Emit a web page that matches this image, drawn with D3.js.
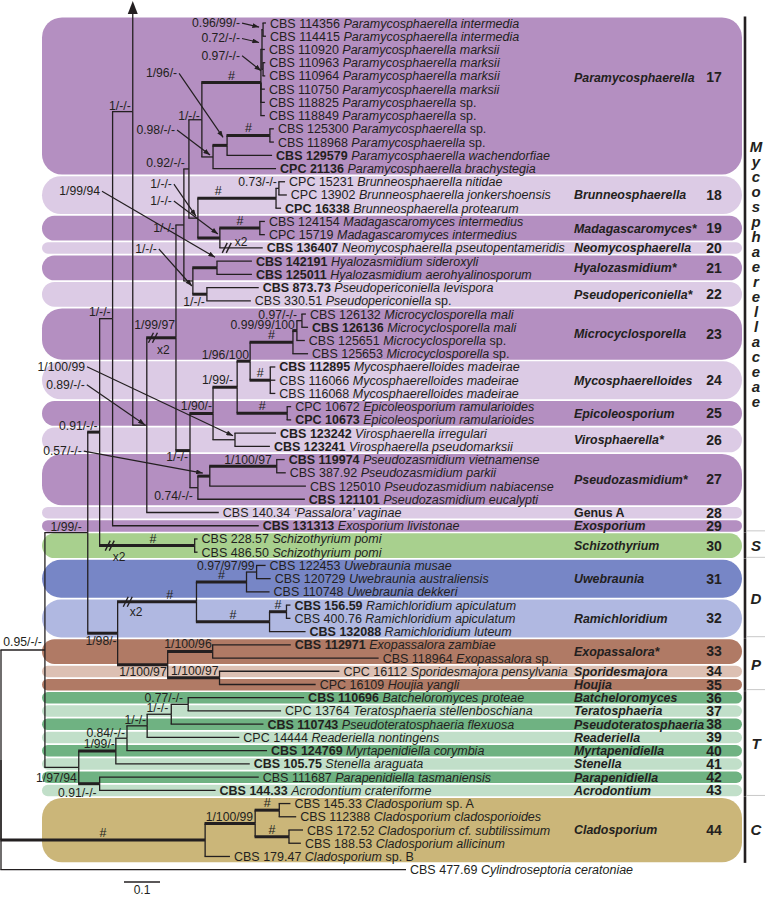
<!DOCTYPE html>
<html>
<head>
<meta charset="utf-8">
<title>Mycosphaerellaceae phylogeny</title>
<script src="https://cdnjs.cloudflare.com/ajax/libs/d3/7.8.5/d3.min.js"></script>
<style>
  body { margin: 0; background: #fff; }
  svg text { font-family: "Liberation Sans", Arial, Helvetica, sans-serif; fill: #231f20; }
</style>
</head>
<body>
<div id="chart"></div>
<script>
var width = 765, height = 897;

// internal nodes: id, parent, branch length (subst./site), thick branch
var nodes = [
  ["root", null, 0, 0],
  ["n095", "root", 0.122, 0],
  ["ncl", "root", 0.567, 1],
  ["n199", "n095", 0.119, 0],
  ["nt", "n095", 0.094, 0],
  ["n091", "n199", 0.033, 1],
  ["n198", "n199", 0.083, 1],
  ["n1x", "n091", 0.036, 0],
  ["nsc", "n091", 0.264, 1],
  ["n133", "n1x", 0.056, 0],
  ["n089", "n133", 0.039, 0],
  ["n19997", "n089", 0.081, 1],
  ["nu", "n19997", 0.022, 0],
  ["nl", "n19997", 0.039, 1],
  ["n092", "nu", 0.014, 0],
  ["nhp", "nu", 0.025, 0],
  ["n1_122", "n092", 0.036, 0],
  ["nbmn", "n092", 0.025, 0],
  ["p0", "n1_122", 0.164, 1],
  ["n072", "p0", 0.003, 0],
  ["n096", "n072", 0.003, 0],
  ["n097", "n072", 0.003, 0],
  ["npb", "n1_122", 0.031, 0],
  ["npc", "npb", 0.039, 1],
  ["n2", "npc", 0.119, 1],
  ["nbr", "nbmn", 0.217, 1],
  ["nbr2", "nbr", 0.008, 0],
  ["nmn", "nbmn", 0.061, 1],
  ["nmad", "nmn", 0.111, 1],
  ["nhy", "nhp", 0.067, 1],
  ["npp", "nhp", 0.039, 1],
  ["n190", "nl", 0.064, 1],
  ["npz", "nl", 0.022, 0],
  ["n199b", "n190", 0.067, 1],
  ["nvi", "n190", 0.061, 0],
  ["n196", "n199b", 0.036, 1],
  ["nep", "n199b", 0.139, 1],
  ["nmi", "n196", 0.119, 1],
  ["nmy", "n196", 0.056, 1],
  ["nm2", "nmi", 0.011, 1],
  ["nm3", "nm2", 0.014, 0],
  ["npz2", "npz", 0.033, 1],
  ["npz3", "npz2", 0.186, 1],
  ["nur", "n198", 0.219, 1],
  ["np", "n198", 0.139, 1],
  ["nuw", "nur", 0.139, 1],
  ["nra", "nur", 0.203, 1],
  ["nu2", "nuw", 0.028, 0],
  ["nr2", "nra", 0.047, 1],
  ["nex", "np", 0.125, 1],
  ["nsh", "np", 0.144, 1],
  ["nt99", "nt", 0.103, 1],
  ["n091t", "nt", 0.058, 1],
  ["n084", "nt99", 0.031, 0],
  ["n1a", "n084", 0.056, 0],
  ["n1b", "n1a", 0.067, 0],
  ["n077", "n1b", 0.047, 0],
  ["nc1", "ncl", 0.139, 1],
  ["nc1a", "nc1", 0.067, 1],
  ["nc1b", "nc1", 0.094, 1]
];

// terminal taxa, top to bottom: strain, species, bold strain, parent, branch length
var taxa = [
  ["CBS 114356", "Paramycosphaerella intermedia", 0, "n096", 0.008],
  ["CBS 114415", "Paramycosphaerella intermedia", 0, "n096", 0.008],
  ["CBS 110920", "Paramycosphaerella marksii", 0, "n072", 0.008],
  ["CBS 110963", "Paramycosphaerella marksii", 0, "n097", 0.006],
  ["CBS 110964", "Paramycosphaerella marksii", 0, "n097", 0.006],
  ["CBS 110750", "Paramycosphaerella marksii", 0, "p0", 0.011],
  ["CBS 118825", "Paramycosphaerella sp.", 0, "p0", 0.011],
  ["CBS 118849", "Paramycosphaerella sp.", 0, "p0", 0.011],
  ["CBS 125300", "Paramycosphaerella sp.", 0, "n2", 0.011],
  ["CBS 118968", "Paramycosphaerella sp.", 0, "n2", 0.011],
  ["CBS 129579", "Paramycosphaerella wachendorfiae", 1, "npc", 0.125],
  ["CPC 21136", "Paramycosphaerella brachystegia", 1, "npb", 0.175],
  ["CPC 15231", "Brunneosphaerella nitidae", 0, "nbr2", 0.017],
  ["CPC 13902", "Brunneosphaerella jonkershoensis", 0, "nbr2", 0.022],
  ["CPC 16338", "Brunneosphaerella protearum", 1, "nbr", 0.014],
  ["CBS 124154", "Madagascaromyces intermedius", 0, "nmad", 0.014],
  ["CPC 15719", "Madagascaromyces intermedius", 0, "nmad", 0.014],
  ["CBS 136407", "Neomycosphaerella pseutopentameridis", 1, "nmn", 0.119],
  ["CBS 142191", "Hyalozasmidium sideroxyli", 1, "nhy", 0.097],
  ["CBS 125011", "Hyalozasmidium aerohyalinosporum", 1, "nhy", 0.097],
  ["CBS 873.73", "Pseudopericoniella levispora", 1, "npp", 0.144],
  ["CBS 330.51", "Pseudopericoniella sp.", 0, "npp", 0.122],
  ["CBS 126132", "Microcyclosporella mali", 0, "nm3", 0.011],
  ["CBS 126136", "Microcyclosporella mali", 1, "nm3", 0.017],
  ["CBS 125651", "Microcyclosporella sp.", 0, "nm2", 0.022],
  ["CBS 125653", "Microcyclosporella sp.", 0, "nmi", 0.042],
  ["CBS 112895", "Mycosphaerelloides madeirae", 1, "nmy", 0.014],
  ["CBS 116066", "Mycosphaerelloides madeirae", 0, "nmy", 0.014],
  ["CBS 116068", "Mycosphaerelloides madeirae", 0, "nmy", 0.014],
  ["CPC 10672", "Epicoleosporium ramularioides", 0, "nep", 0.011],
  ["CPC 10673", "Epicoleosporium ramularioides", 1, "nep", 0.011],
  ["CBS 123242", "Virosphaerella irregulari", 1, "nvi", 0.114],
  ["CBS 123241", "Virosphaerella pseudomarksii", 1, "nvi", 0.097],
  ["CBS 119974", "Pseudozasmidium vietnamense", 1, "npz3", 0.022],
  ["CBS 387.92", "Pseudozasmidium parkii", 0, "npz3", 0.025],
  ["CBS 125010", "Pseudozasmidium nabiacense", 0, "npz2", 0.267],
  ["CBS 121101", "Pseudozasmidium eucalypti", 1, "npz", 0.297],
  ["CBS 140.34", "\u2018Passalora\u2019 vaginae", 0, "n089", 0.200],
  ["CBS 131313", "Exosporium livistonae", 1, "n1x", 0.406],
  ["CBS 228.57", "Schizothyrium pomi", 0, "nsc", 0.008],
  ["CBS 486.50", "Schizothyrium pomi", 0, "nsc", 0.008],
  ["CBS 122453", "Uwebraunia musae", 0, "nu2", 0.025],
  ["CBS 120729", "Uwebraunia australiensis", 0, "nu2", 0.039],
  ["CBS 110748", "Uwebraunia dekkeri", 0, "nuw", 0.064],
  ["CBS 156.59", "Ramichloridium apiculatum", 1, "nr2", 0.011],
  ["CBS 400.76", "Ramichloridium apiculatum", 0, "nr2", 0.011],
  ["CBS 132088", "Ramichloridium luteum", 1, "nra", 0.100],
  ["CBS 112971", "Exopassalora zambiae", 1, "nex", 0.217],
  ["CBS 118964", "Exopassalora sp.", 0, "nex", 0.461],
  ["CPC 16112", "Sporidesmajora pensylvania", 0, "nsh", 0.333],
  ["CPC 16109", "Houjia yangli", 0, "nsh", 0.267],
  ["CBS 110696", "Batcheloromyces proteae", 1, "n077", 0.322],
  ["CPC 13764", "Teratosphaeria stellenboschiana", 0, "n077", 0.258],
  ["CBS 110743", "Pseudoteratosphaeria flexuosa", 1, "n1b", 0.256],
  ["CPC 14444", "Readeriella nontingens", 0, "n1a", 0.256],
  ["CBS 124769", "Myrtapenidiella corymbia", 1, "n084", 0.389],
  ["CBS 105.75", "Stenella araguata", 1, "nt99", 0.372],
  ["CBS 111687", "Parapenidiella tasmaniensis", 0, "n091t", 0.442],
  ["CBS 144.33", "Acrodontium crateriforme", 1, "n091t", 0.322],
  ["CBS 145.33", "Cladosporium sp. A", 0, "nc1a", 0.031],
  ["CBS 112388", "Cladosporium cladosporioides", 0, "nc1a", 0.047],
  ["CBS 172.52", "Cladosporium cf. subtilissimum", 0, "nc1b", 0.039],
  ["CBS 188.53", "Cladosporium allicinum", 0, "nc1b", 0.033],
  ["CBS 179.47", "Cladosporium sp. B", 0, "ncl", 0.069],
  ["CBS 477.69", "Cylindroseptoria ceratoniae", 0, "root", 1.125]
];

// branch continuing to the part of the tree above the figure
var upRow = -17;

// support values: node, text, label dx, dy from node
var support = [
  ["n095", "0.95/-/-", -3, -4], ["n199", "1/99/-", -6, -2], ["n091", "0.91/-/-", -2, -2],
  ["n1x", "1/-/-", -2, -3], ["n133", "1/-/-", -2, -2], ["n1_122", "1/-/-", -2, 0],
  ["n092", "0.92/-/-", -4, -2], ["nu", "1/-/-", -9, 7], ["nbr2", "0.73/-/-", -2, -2],
  ["npp", "1/-/-", -2, 11.5], ["n19997", "1/99/97", -1, -8.5], ["nm3", "0.97/-/-", -5, -2],
  ["nm2", "0.99/99/100", -2, -2], ["n196", "1/96/100", -1, -2], ["n199b", "1/99/-", -4, -3],
  ["n190", "1/90/-", -1, -3], ["nl", "1/-/-", -2, 10.5], ["npz", "0.74/-/-", -5, 12],
  ["npz3", "1/100/97", -5, -2], ["nu2", "0.97/97/99", -2, -2.5], ["n198", "1/98/-", -1, 12],
  ["np", "1/100/97", -1, 11], ["nex", "1/100/96", -1, -3], ["nsh", "1/100/97", -1, -3],
  ["n077", "0.77/-/-", -5, -2.5], ["n1b", "1/-/-", -3, -2.5], ["n1a", "1/-/-", -1, -2],
  ["n084", "0.84/-/-", -2, -1.5], ["nt99", "1/99/-", -1, -3], ["nt", "1/97/94", -2, 14.5],
  ["n091t", "0.91/-/-", -3, 13.5], ["nc1", "1/100/99", -2, -2]
];

// support values with a pointer: node, text, label dx, dy, arrow tip dx, dy
var pointed = [
  ["n096", "0.96/99/-", -23, -2.5, -4, -2.5],
  ["n072", "0.72/-/-", -22, -7, -3, -7],
  ["n097", "0.97/-/-", -23, -9.5, -2, 1.5],
  ["npc", "1/96/-", -50, -68, -4, -8],
  ["npb", "0.98/-/-", -38, -23, -3, -2],
  ["nhy", "1/99/94", -117, -72.5, -2, -10.5],
  ["nbmn", "1/-/-", -26, -30, -2, -2],
  ["nmn", "1/-/-", -48, -33, -2, -4],
  ["nhp", "1/-/-", -36, -28, -1, 5],
  ["nvi", "1/100/99", -150, -69, -2, -4],
  ["n089", "0.89/-/-", -62, -36.5, -2, -0.5],
  ["npz2", "0.57/-/-", -128, -21, -7, -3]
];

// fully supported branches (#): node, position along the branch
var hashes = [
  ["p0", 0.5], ["n2", 0.5], ["nbr", 0.26], ["nmad", 0.5], ["nmi", 0.5], ["nmy", 0.5],
  ["nep", 0.5], ["nsc", 0.56], ["nur", 0.66], ["nuw", 0.5], ["nra", 0.5], ["nr2", 0.5],
  ["ncl", 0.5], ["nc1a", 0.5], ["nc1b", 0.5]
];

// branches drawn at half length: node, break position from parent, x2 label dx, dy
var breaks = [
  ["t17", 0.019, 8, -2], ["n19997", 0.017, 4, 16], ["nsc", 0.028, 3, 15], ["nur", 0.028, 2, 14]
];

// genus clades: label, number, first row, last row, colour, italic, label row
var clades = [
  ["Paramycosphaerella", 17, 0, 11, "purple", 1, 4.1],
  ["Brunneosphaerella", 18, 12, 14, "lilac", 1],
  ["Madagascaromyces*", 19, 15, 16, "purple", 1],
  ["Neomycosphaerella", 20, 17, 17, "lilac", 1],
  ["Hyalozasmidium*", 21, 18, 19, "purple", 1],
  ["Pseudopericoniella*", 22, 20, 21, "lilac", 1],
  ["Microcyclosporella", 23, 22, 25, "purple", 1],
  ["Mycosphaerelloides", 24, 26, 28, "lilac", 1],
  ["Epicoleosporium", 25, 29, 30, "purple", 1],
  ["Virosphaerella*", 26, 31, 32, "lilac", 1],
  ["Pseudozasmidium*", 27, 33, 36, "purple", 1],
  ["Genus A", 28, 37, 37, "lilac", 0],
  ["Exosporium", 29, 38, 38, "purple", 1],
  ["Schizothyrium", 30, 39, 40, "lime", 1],
  ["Uwebraunia", 31, 41, 43, "blue", 1],
  ["Ramichloridium", 32, 44, 46, "paleblue", 1],
  ["Exopassalora*", 33, 47, 48, "brown", 1],
  ["Sporidesmajora", 34, 49, 49, "tan", 1],
  ["Houjia", 35, 50, 50, "brown", 1],
  ["Batcheloromyces", 36, 51, 51, "green", 1],
  ["Teratosphaeria", 37, 52, 52, "palegreen", 1],
  ["Pseudoteratosphaeria", 38, 53, 53, "green", 1],
  ["Readeriella", 39, 54, 54, "palegreen", 1],
  ["Myrtapenidiella", 40, 55, 55, "green", 1],
  ["Stenella", 41, 56, 56, "palegreen", 1],
  ["Parapenidiella", 42, 57, 57, "green", 1],
  ["Acrodontium", 43, 58, 58, "palegreen", 1],
  ["Cladosporium", 44, 59, 63, "gold", 1]
];

// families: label, first clade, last clade
var families = [
  ["Mycosphaerellaceae", 0, 12], ["S", 13, 13], ["D", 14, 15],
  ["P", 16, 18], ["T", 19, 26], ["C", 27, 27]
];

var colours = {
  purple: "#b48fc1", lilac: "#dccbe5", lime: "#a8d08e", blue: "#7786c6",
  paleblue: "#b0b8e1", brown: "#b07a65", tan: "#dcc0b3", green: "#6fb282",
  palegreen: "#c1dfc9", gold: "#cbb679"
};

var svg = d3.select("#chart").append("svg")
    .attr("width", width)
    .attr("height", height);

var x = d3.scaleLinear().domain([0, 1]).range([1, 361]);
var y = d3.scaleLinear().domain([0, 64]).range([23, 869.7]);

var rows = nodes.map(function(d) { return {id: d[0], parent: d[1], len: d[2], thick: d[3]}; })
  .concat(taxa.map(function(d, i) {
    return {id: "t" + i, parent: d[3], len: d[4], thick: 0, row: i, taxon: d};
  }))
  .concat([{id: "up", parent: "n133", len: 0, thick: 0, row: upRow, up: true}]);

var root = d3.stratify()
    .id(function(d) { return d.id; })
    .parentId(function(d) { return d.parent; })(rows);

root.eachBefore(function(n) {
  n.dist = n.parent ? n.parent.dist + n.data.len : 0;
  n.px = x(n.dist);
});
root.eachAfter(function(n) {
  if (!n.children) { n.py = y(n.data.row); return; }
  var ys = n.children.map(function(c) { return c.py; });
  n.py = (d3.min(ys) + d3.max(ys)) / 2;
});
var byId = new Map(root.descendants().map(function(n) { return [n.id, n]; }));

// clade bands
function bandTop(c) { return y(c[2]) - 5.6; }
function bandBottom(c) { return y(c[3]) + 5.9; }

svg.append("g").selectAll("rect")
    .data(clades)
  .enter().append("rect")
    .attr("x", 42)
    .attr("width", 700)
    .attr("y", bandTop)
    .attr("height", function(c) { return bandBottom(c) - bandTop(c); })
    .attr("rx", function(c) { return Math.min(20, (bandBottom(c) - bandTop(c)) / 2); })
    .style("fill", function(c) { return colours[c[4]]; });

// branches
var links = root.descendants().filter(function(n) { return n.parent; });
var g = svg.append("g").style("stroke", "#231f20").style("fill", "none");

g.selectAll(".v")
    .data(links)
  .enter().append("line")
    .attr("x1", function(n) { return n.parent.px; })
    .attr("x2", function(n) { return n.parent.px; })
    .attr("y1", function(n) { return n.parent.py; })
    .attr("y2", function(n) { return n.data.up ? 12 : n.py; })
    .style("stroke-width", 1.3);

g.selectAll(".h")
    .data(links.filter(function(n) { return !n.data.up; }))
  .enter().append("line")
    .attr("x1", function(n) { return n.parent.px - 0.6; })
    .attr("x2", function(n) { return n.px; })
    .attr("y1", function(n) { return n.py; })
    .attr("y2", function(n) { return n.py; })
    .style("stroke-width", function(n) { return n.data.thick ? 3 : 1.3; });

// arrow head of the truncated branch
var up = byId.get("up");
svg.append("path")
    .attr("d", "M" + (up.px - 5) + ",14L" + up.px + ",1L" + (up.px + 5) + ",14Z")
    .style("fill", "#231f20");

// branch breaks
breaks.forEach(function(b) {
  var n = byId.get(b[0]);
  var bx = x(n.parent.dist + b[1]), by = n.py;
  [-2, 2].forEach(function(o) {
    svg.append("line")
        .attr("x1", bx + o - 2.5).attr("y1", by + 5)
        .attr("x2", bx + o + 2.5).attr("y2", by - 5)
        .style("stroke", "#231f20").style("stroke-width", 1.4);
  });
  svg.append("text")
      .attr("x", bx + b[2]).attr("y", by + b[3])
      .style("font-size", "12px")
      .text("x2");
});

// # marks
svg.append("g").selectAll("text")
    .data(hashes)
  .enter().append("text")
    .attr("x", function(h) { var n = byId.get(h[0]); return n.parent.px + h[1] * (n.px - n.parent.px); })
    .attr("y", function(h) { return byId.get(h[0]).py - 3; })
    .attr("text-anchor", "middle")
    .style("font-size", "12.5px")
    .text("#");

// support values
svg.append("g").selectAll("text")
    .data(support)
  .enter().append("text")
    .attr("x", function(s) { return byId.get(s[0]).px + s[2]; })
    .attr("y", function(s) { return byId.get(s[0]).py + s[3]; })
    .attr("text-anchor", "end")
    .style("font-size", "12.2px")
    .text(function(s) { return s[1]; });

svg.append("defs").append("marker")
    .attr("id", "tip")
    .attr("viewBox", "0 0 8 6")
    .attr("refX", 8).attr("refY", 3)
    .attr("markerWidth", 7).attr("markerHeight", 5)
    .attr("markerUnits", "userSpaceOnUse")
    .attr("orient", "auto")
  .append("path")
    .attr("d", "M0,0L8,3L0,6Z")
    .style("fill", "#231f20");

var pg = svg.append("g");
pointed.forEach(function(p) {
  var n = byId.get(p[0]);
  var tx = n.px + p[2], ty = n.py + p[3];
  pg.append("text")
      .attr("x", tx).attr("y", ty)
      .attr("text-anchor", "end")
      .style("font-size", "12.2px")
      .text(p[1]);
  pg.append("line")
      .attr("x1", tx + 2).attr("y1", ty - 4)
      .attr("x2", n.px + p[4]).attr("y2", n.py + p[5])
      .attr("marker-end", "url(#tip)")
      .style("stroke", "#231f20").style("stroke-width", 1.2);
});

// taxon labels
var leafText = svg.append("g").selectAll("text")
    .data(root.leaves().filter(function(n) { return n.data.taxon; }))
  .enter().append("text")
    .attr("x", function(n) { return n.px + 4; })
    .attr("y", function(n) { return n.py; })
    .attr("dy", "0.36em")
    .style("font-size", "12.5px");

leafText.append("tspan")
    .style("font-weight", function(n) { return n.data.taxon[2] ? "bold" : "normal"; })
    .text(function(n) { return n.data.taxon[0] + " "; });
leafText.each(function(n) {
  var m = n.data.taxon[1].match(/^(.*?)( sp\..*)?$/);
  var t = d3.select(this);
  t.append("tspan").style("font-style", "italic").text(m[1]);
  if (m[2]) t.append("tspan").text(m[2]);
});

// genus names and numbers
function labelY(c) { return c[6] != null ? y(c[6]) : (y(c[2]) + y(c[3])) / 2; }

svg.append("g").selectAll("text")
    .data(clades)
  .enter().append("text")
    .attr("x", 574)
    .attr("y", labelY)
    .attr("dy", "0.36em")
    .style("font-size", "12.4px")
    .style("font-weight", "bold")
    .style("font-style", function(c) { return c[5] ? "italic" : "normal"; })
    .text(function(c) { return c[0]; });

svg.append("g").selectAll("text")
    .data(clades)
  .enter().append("text")
    .attr("x", 714)
    .attr("y", labelY)
    .attr("dy", "0.36em")
    .attr("text-anchor", "middle")
    .style("font-size", "14px")
    .style("font-weight", "bold")
    .text(function(c) { return c[1]; });

// family bars
families.forEach(function(f, i) {
  var top = bandTop(clades[f[1]]) - 1, bottom = bandBottom(clades[f[2]]) + 0.5;
  svg.append("line")
      .attr("x1", 745).attr("x2", 745)
      .attr("y1", top).attr("y2", bottom)
      .style("stroke", "#231f20").style("stroke-width", 2.6);
  if (i > 0) {
    svg.append("line")
        .attr("x1", 747).attr("x2", 765)
        .attr("y1", top - 1.5).attr("y2", top - 1.5)
        .style("stroke", "#c8c8c8").style("stroke-width", 1);
  }
  var mid = (top + bottom) / 2, letters = f[0].split("");
  letters.forEach(function(ch, j) {
    svg.append("text")
        .attr("x", 756)
        .attr("y", mid + (j - (letters.length - 1) / 2) * 15)
        .attr("dy", "0.36em")
        .attr("text-anchor", "middle")
        .style("font-size", "15px")
        .style("font-weight", "bold")
        .style("font-style", "italic")
        .text(ch);
  });
});

// scale bar
svg.append("line")
    .attr("x1", 124).attr("x2", 124 + x(0.1) - x(0))
    .attr("y1", 882).attr("y2", 882)
    .style("stroke", "#231f20").style("stroke-width", 1.3);
svg.append("text")
    .attr("x", 124 + (x(0.1) - x(0)) / 2)
    .attr("y", 894)
    .attr("text-anchor", "middle")
    .style("font-size", "12px")
    .text("0.1");
</script>
</body>
</html>
